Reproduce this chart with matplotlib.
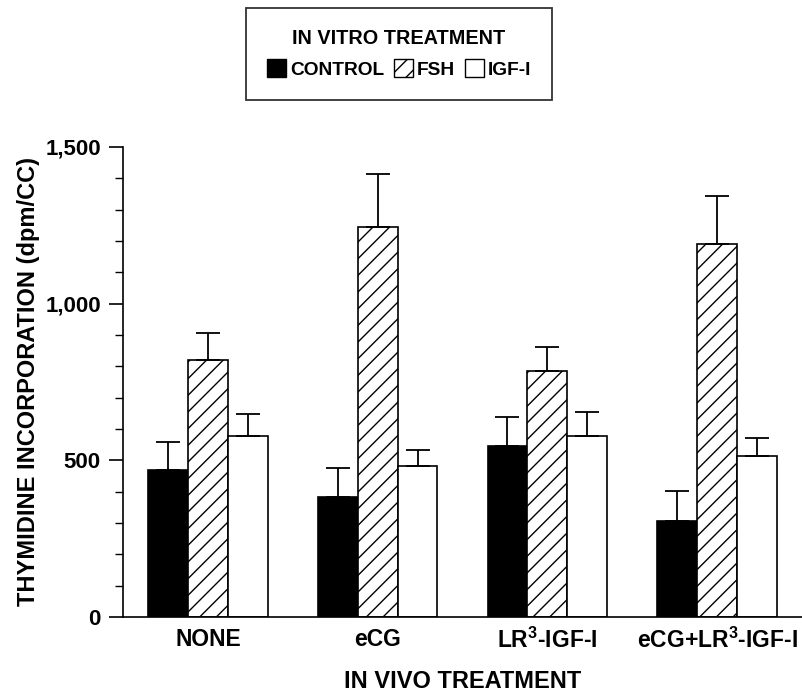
import matplotlib
matplotlib.use("Agg")
import matplotlib.pyplot as plt
import numpy as np
from matplotlib.patches import Patch
from matplotlib.ticker import MultipleLocator

plt.rcParams['font.family'] = ['Liberation Sans', 'DejaVu Sans']
plt.rcParams['font.weight'] = 'bold'
plt.rcParams['mathtext.fontset'] = 'custom'
plt.rcParams['mathtext.rm'] = 'Liberation Sans:bold'
plt.rcParams['mathtext.default'] = 'rm'
plt.rcParams['hatch.linewidth'] = 1.0

# in vivo treatment groups
groups = ["NONE", "eCG", "LR$^3$-IGF-I", "eCG+LR$^3$-IGF-I"]
# in vitro treatment series (dpm/CC)
control = [469, 383, 547, 306]
control_err = [91, 94, 90, 96]
fsh = [820, 1246, 786, 1190]
fsh_err = [86, 167, 77, 152]
igf = [579, 483, 578, 514]
igf_err = [69, 50, 75, 58]

fig = plt.figure(figsize=(8.02, 6.92), dpi=100)
ax = fig.add_axes([0.1534, 0.1084, 0.8466, 0.6792])

x = np.arange(len(groups))
w = 0.235
ekw = dict(elinewidth=1.3, capthick=1.3, ecolor='black')
ax.bar(x - w, control, w, color='black', edgecolor='black', linewidth=1.2,
       yerr=[np.zeros(4), control_err], capsize=8.5, error_kw=ekw, label='CONTROL')
ax.bar(x, fsh, w, color='white', edgecolor='black', linewidth=1.2, hatch='//',
       yerr=[np.zeros(4), fsh_err], capsize=8.5, error_kw=ekw, label='FSH')
ax.bar(x + w, igf, w, color='white', edgecolor='black', linewidth=1.2,
       yerr=[np.zeros(4), igf_err], capsize=8.5, error_kw=ekw, label='IGF-I')

ax.set_xlim(-0.5, 3.5)
ax.set_ylim(0, 1500)
ax.spines['top'].set_visible(False)
ax.spines['right'].set_visible(False)
ax.spines['left'].set_linewidth(1.2)
ax.spines['bottom'].set_linewidth(1.2)

ax.yaxis.set_minor_locator(MultipleLocator(100))
ax.set_yticks([0, 500, 1000, 1500])
ax.set_yticklabels(["0", "500", "1,000", "1,500"], fontsize=16, fontweight='bold')
ax.tick_params(axis='y', which='major', length=10, width=1.2, pad=6)
ax.tick_params(axis='y', which='minor', length=6, width=1.0)
ax.set_xticks(x)
ax.set_xticklabels(groups, fontsize=16.5, fontweight='bold')
ax.tick_params(axis='x', length=0, pad=8)

ax.set_ylabel("THYMIDINE INCORPORATION (dpm/CC)", fontsize=17, fontweight='bold', labelpad=4)
ax.set_xlabel("IN VIVO TREATMENT", fontsize=17, fontweight='bold', labelpad=12)

handles = [Patch(facecolor='black', edgecolor='black'),
           Patch(facecolor='white', edgecolor='black', hatch='//'),
           Patch(facecolor='white', edgecolor='black')]
leg = fig.legend(handles, ['CONTROL', 'FSH', 'IGF-I'], ncol=3, loc='upper center',
                 bbox_to_anchor=(0.4975, 0.988), frameon=True, fancybox=False,
                 edgecolor='black', title='IN VITRO TREATMENT',
                 title_fontproperties={'weight': 'bold', 'size': 14.3},
                 prop={'weight': 'bold', 'size': 13.8},
                 handlelength=1.0, handleheight=1.0, handletextpad=0.2,
                 columnspacing=0.5, borderpad=1.1, borderaxespad=0)
leg.get_frame().set_linewidth(1.3)
leg._legend_box.sep = 8

fig.savefig("out.png", dpi=100)
